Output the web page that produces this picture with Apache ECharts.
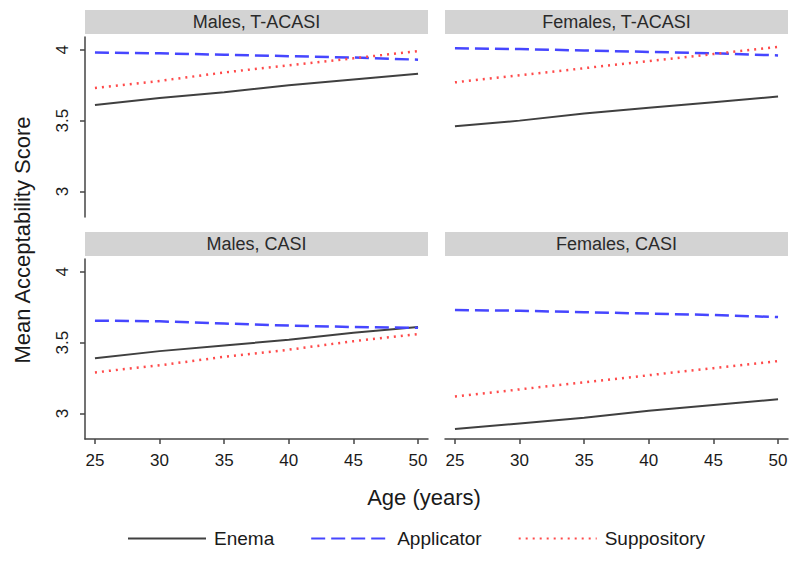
<!DOCTYPE html>
<html><head><meta charset="utf-8">
<script src="https://cdn.jsdelivr.net/npm/echarts@6/dist/echarts.min.js"></script>
<style>html,body{margin:0;padding:0;background:#fff}#c{width:800px;height:561px}</style>
</head><body><div id="c"></div>
<script>
// ---- data ----
const ages = [25, 30, 35, 40, 45, 50];
const panelTitles = ['Males, T-ACASI', 'Females, T-ACASI', 'Males, CASI', 'Females, CASI'];
const seriesNames = ['Enema', 'Applicator', 'Suppository'];
const xTicks = [25, 30, 35, 40, 45, 50];
const yTicks = [3, 3.5, 4];

const enemaMalesTACASI   = [3.61, 3.66, 3.70, 3.75, 3.79, 3.83];
const applMalesTACASI    = [3.98, 3.975, 3.965, 3.955, 3.945, 3.93];
const suppMalesTACASI    = [3.73, 3.78, 3.84, 3.89, 3.94, 3.99];

const enemaFemalesTACASI = [3.46, 3.50, 3.55, 3.59, 3.63, 3.67];
const applFemalesTACASI  = [4.01, 4.005, 3.995, 3.985, 3.975, 3.96];
const suppFemalesTACASI  = [3.77, 3.82, 3.87, 3.92, 3.97, 4.02];

const enemaMalesCASI     = [3.39, 3.44, 3.48, 3.52, 3.57, 3.61];
const applMalesCASI      = [3.655, 3.65, 3.635, 3.62, 3.61, 3.605];
const suppMalesCASI      = [3.29, 3.34, 3.40, 3.45, 3.51, 3.56];

const enemaFemalesCASI   = [2.89, 2.93, 2.97, 3.02, 3.06, 3.10];
const applFemalesCASI    = [3.73, 3.725, 3.715, 3.705, 3.695, 3.68];
const suppFemalesCASI    = [3.12, 3.17, 3.22, 3.27, 3.32, 3.37];

const panelData = [
  [enemaMalesTACASI, applMalesTACASI, suppMalesTACASI],
  [enemaFemalesTACASI, applFemalesTACASI, suppFemalesTACASI],
  [enemaMalesCASI, applMalesCASI, suppMalesCASI],
  [enemaFemalesCASI, applFemalesCASI, suppFemalesCASI]
];

// ---- layout / style ----
const FONT = 'Liberation Sans, Arial, sans-serif';
const grids = [
  {left: 85,  top: 37,  width: 343, height: 180},
  {left: 445, top: 37,  width: 343, height: 180},
  {left: 85,  top: 259, width: 343, height: 180},
  {left: 445, top: 259, width: 343, height: 180}
];
const stripTops = [10, 10, 232, 232];
const lineStyles = [
  {color: '#404040', width: 2, type: 'solid'},
  {color: '#4646ff', width: 2.5, type: [14, 6]},
  {color: '#ff4a4a', width: 2.5, type: [2, 5]}
];

const axisLineStyle = {color: '#444', width: 1.5};

const xAxes = grids.map((g, i) => {
  const show = i >= 2;
  return {
    type: 'value', gridIndex: i, min: 24.23, max: 50.77,
    show: show,
    splitLine: {show: false},
    axisLine: {show: show, lineStyle: axisLineStyle},
    axisTick: {show: show, length: 5, customValues: xTicks, lineStyle: axisLineStyle},
    axisLabel: {show: show, customValues: xTicks, fontSize: 17, fontFamily: FONT, color: '#1a1a1a', margin: 13}
  };
});
const yAxes = grids.map((g, i) => {
  const show = (i % 2) === 0;
  return {
    type: 'value', gridIndex: i, min: 2.82, max: 4.09,
    show: show,
    splitLine: {show: false},
    axisLine: {show: show, onZero: false, lineStyle: axisLineStyle},
    axisTick: {show: show, length: 5, customValues: yTicks, lineStyle: axisLineStyle},
    axisLabel: {show: show, customValues: yTicks, rotate: 90, fontSize: 17, fontFamily: FONT, color: '#1a1a1a', margin: 14,
      formatter: v => String(v)}
  };
});

const series = [];
panelData.forEach((arr, p) => {
  arr.forEach((vals, s) => {
    series.push({
      name: seriesNames[s], type: 'line', xAxisIndex: p, yAxisIndex: p,
      data: ages.map((a, k) => [a, vals[k]]),
      symbol: 'none', showSymbol: false, silent: true, animation: false,
      lineStyle: lineStyles[s], itemStyle: {color: lineStyles[s].color}
    });
  });
});

const graphic = [];
grids.forEach((g, i) => {
  graphic.push({type: 'rect', shape: {x: g.left, y: stripTops[i], width: g.width, height: 24},
    style: {fill: '#d3d3d3'}, silent: true});
  graphic.push({type: 'text', x: g.left + g.width / 2, y: stripTops[i] + 12,
    style: {text: panelTitles[i], font: '18px ' + FONT, fill: '#2a2a2a', textAlign: 'center', textVerticalAlign: 'middle'}, silent: true});
});
graphic.push({type: 'text', x: 22, y: 240, rotation: Math.PI / 2,
  style: {text: 'Mean Acceptability Score', font: '22px ' + FONT, fill: '#1a1a1a', textAlign: 'center', textVerticalAlign: 'middle'}});
graphic.push({type: 'text', x: 424, y: 497,
  style: {text: 'Age (years)', font: '22px ' + FONT, fill: '#1a1a1a', textAlign: 'center', textVerticalAlign: 'middle'}});

const chart = echarts.init(document.getElementById('c'), null, {renderer: 'svg'});
chart.setOption({
  animation: false,
  backgroundColor: '#fff',
  grid: grids,
  xAxis: xAxes,
  yAxis: yAxes,
  series: series,
  graphic: graphic,
  legend: {
    data: seriesNames, left: 122, top: 524, itemWidth: 78, itemHeight: 14, itemGap: 36,
    itemStyle: {opacity: 0},
    textStyle: {fontSize: 19, fontFamily: FONT, color: '#1a1a1a', padding: [0, 0, 0, 3]},
    selectedMode: false
  }
});
</script></body></html>
